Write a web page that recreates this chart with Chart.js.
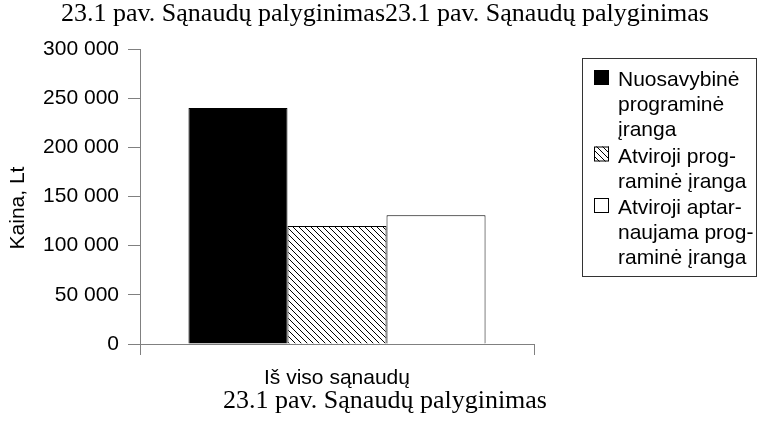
<!DOCTYPE html>
<html>
<head>
<meta charset="utf-8">
<script src="https://cdn.jsdelivr.net/npm/chart.js@4"></script>
<style>
  html, body { margin: 0; padding: 0; background: #fff; }
  canvas { display: block; }
</style>
</head>
<body>
<canvas id="costChart" width="758" height="428"></canvas>
<script>
// chart data
const categories = ['Iš viso sąnaudų'];
const seriesNames = [
    ['Nuosavybinė', 'programinė', 'įranga'],
    ['Atviroji prog-', 'raminė įranga'],
    ['Atviroji aptar-', 'naujama prog-', 'raminė įranga']
];
const proprietaryCost = [240000];
const openSourceCost = [120000];
const supportedOpenCost = [131000];
const yTicks = [0, 50000, 100000, 150000, 200000, 250000, 300000];
const chartTitle = '23.1 pav. Sąnaudų palyginimas23.1 pav. Sąnaudų palyginimas';
const chartCaption = '23.1 pav. Sąnaudų palyginimas';
const yAxisTitle = 'Kaina, Lt';

const sans = '"Liberation Sans", Arial, sans-serif';
const serif = '"Liberation Serif", "Times New Roman", serif';
const axisGray = '#808080';

// diagonal hatch for the second series
function makeHatch() {
    const size = 6;
    const c = document.createElement('canvas');
    c.width = size;
    c.height = size;
    const g = c.getContext('2d');
    g.fillStyle = '#fff';
    g.fillRect(0, 0, size, size);
    g.strokeStyle = '#000';
    g.lineWidth = 1;
    g.beginPath();
    g.moveTo(0, 0); g.lineTo(size, size);
    g.moveTo(-1, size - 1); g.lineTo(1, size + 1);
    g.moveTo(size - 1, -1); g.lineTo(size + 1, 1);
    g.stroke();
    return g.createPattern(c, 'repeat');
}

const ctx = document.getElementById('costChart').getContext('2d');
const hatch = makeHatch();

function formatThousands(v) {
    return String(v).replace(/\B(?=(\d{3})+(?!\d))/g, ' ');
}

// titles, y axis title and the boxed legend
const decorations = {
    id: 'decorations',
    afterDraw(chart) {
        const c = chart.ctx;
        c.save();
        c.fillStyle = '#000';
        c.font = '26px ' + serif;
        c.textAlign = 'center';
        c.textBaseline = 'alphabetic';
        c.fillText(chartTitle, 385, 21);
        c.fillText(chartCaption, 385, 408);

        c.save();
        c.translate(18, 208);
        c.rotate(-Math.PI / 2);
        c.font = '21px ' + sans;
        c.textBaseline = 'middle';
        c.fillText(yAxisTitle, 0, 0);
        c.restore();

        c.strokeStyle = '#333';
        c.lineWidth = 1;
        c.strokeRect(582.5, 58.5, 174, 218);

        c.textAlign = 'left';
        c.font = '21px ' + sans;
        let y = 86;
        chart.data.datasets.forEach((ds, i) => {
            c.fillStyle = ds.backgroundColor;
            c.fillRect(594, y - 16, 15, 15);
            c.strokeStyle = '#000';
            c.strokeRect(594.5, y - 15.5, 14, 14);
            c.fillStyle = '#000';
            seriesNames[i].forEach((line, k) => c.fillText(line, 618, y + k * 25));
            y += seriesNames[i].length * 25 + 1.5;
        });
        c.restore();
    }
};

new Chart(ctx, {
    type: 'bar',
    data: {
        labels: categories,
        datasets: [
            { label: seriesNames[0].join(' '), data: proprietaryCost, backgroundColor: '#000' },
            { label: seriesNames[1].join(' '), data: openSourceCost, backgroundColor: hatch },
            { label: seriesNames[2].join(' '), data: supportedOpenCost, backgroundColor: '#fff' }
        ]
    },
    options: {
        responsive: false,
        animation: false,
        layout: { padding: { top: 49, right: 224, bottom: 0, left: 0 } },
        datasets: {
            bar: {
                categoryPercentage: 0.754,
                barPercentage: 1,
                borderColor: '#000',
                borderWidth: 1
            }
        },
        plugins: {
            legend: { display: false },
            tooltip: { enabled: false },
            title: { display: false }
        },
        scales: {
            x: {
                offset: true,
                afterFit: s => { s.height = 84; },
                grid: {
                    offset: true,
                    drawOnChartArea: false,
                    tickLength: 11,
                    color: axisGray
                },
                border: { color: axisGray },
                ticks: {
                    color: '#000',
                    padding: 11,
                    font: { family: sans, size: 21 }
                }
            },
            y: {
                min: 0,
                max: 300000,
                afterFit: s => { s.width = 140; },
                afterBuildTicks: s => { s.ticks = yTicks.map(v => ({ value: v })); },
                grid: {
                    drawOnChartArea: false,
                    tickLength: 12,
                    color: axisGray
                },
                border: { color: axisGray },
                ticks: {
                    color: '#000',
                    padding: 9,
                    font: { family: sans, size: 21 },
                    callback: v => formatThousands(v)
                }
            }
        }
    },
    plugins: [decorations]
});
</script>
</body>
</html>
